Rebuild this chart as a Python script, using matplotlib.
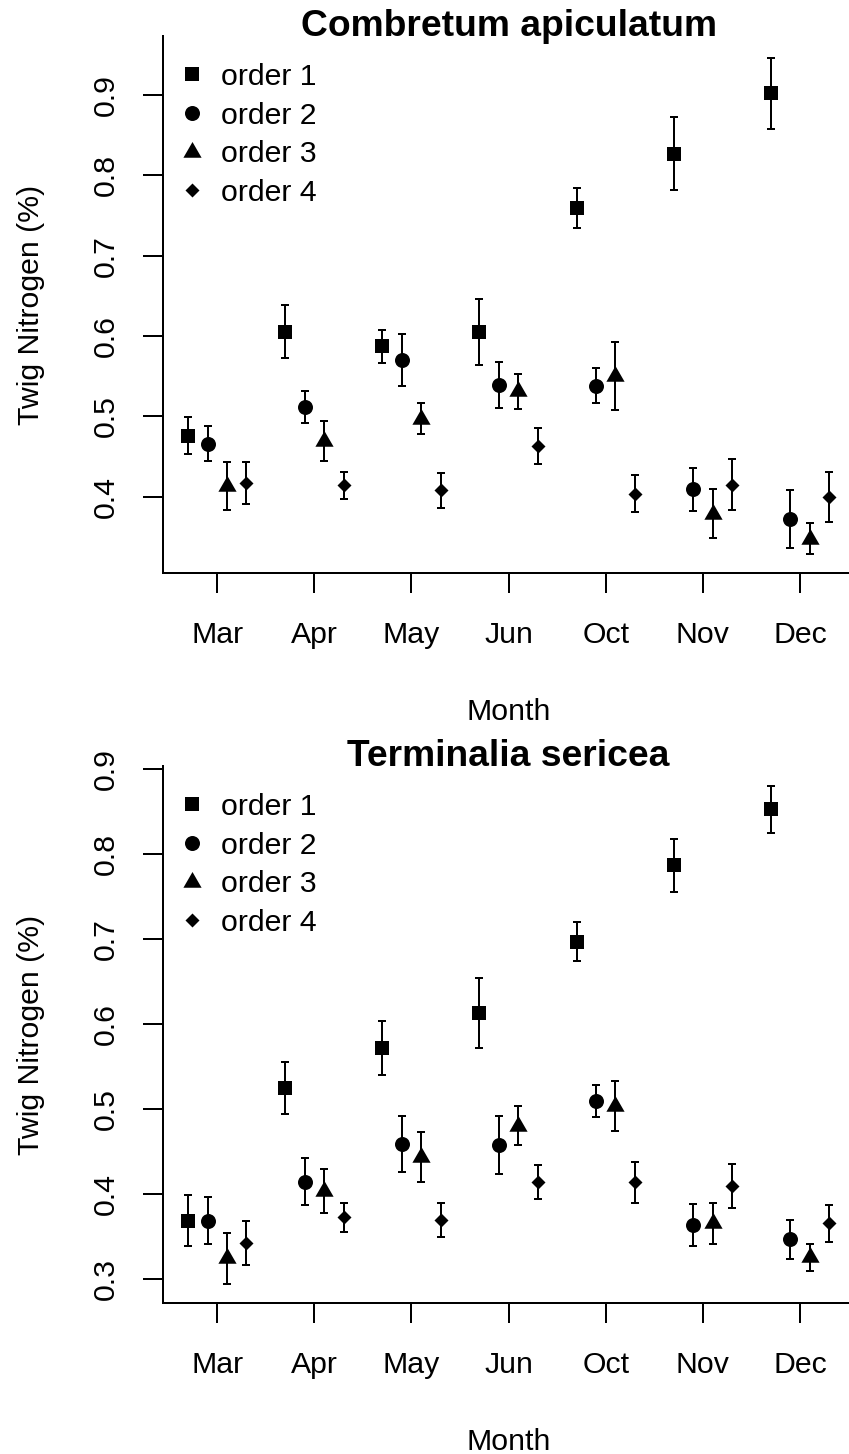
import numpy as np
import matplotlib
matplotlib.use("Agg")
import matplotlib.pyplot as plt
from matplotlib.path import Path

plt.rcParams['font.family'] = ['Liberation Sans', 'DejaVu Sans']

# ---------------- data ----------------
months = ["Mar", "Apr", "May", "Jun", "Oct", "Nov", "Dec"]
order_labels = ["order 1", "order 2", "order 3", "order 4"]

# Combretum apiculatum: means and error (half-length of bars)
ca_o1 = [0.476, 0.605, 0.587, 0.605, 0.759, 0.827, 0.902]
ca_o1_err = [0.023, 0.033, 0.021, 0.041, 0.025, 0.045, 0.044]
ca_o2 = [0.466, 0.512, 0.570, 0.539, 0.538, 0.409, 0.372]
ca_o2_err = [0.022, 0.020, 0.032, 0.029, 0.022, 0.027, 0.036]
ca_o3 = [0.413, 0.469, 0.497, 0.531, 0.550, 0.379, 0.348]
ca_o3_err = [0.030, 0.025, 0.019, 0.022, 0.042, 0.030, 0.019]
ca_o4 = [0.417, 0.414, 0.408, 0.463, 0.404, 0.415, 0.400]
ca_o4_err = [0.026, 0.017, 0.022, 0.022, 0.023, 0.032, 0.031]

# Terminalia sericea
ts_o1 = [0.369, 0.525, 0.572, 0.613, 0.697, 0.787, 0.853]
ts_o1_err = [0.030, 0.031, 0.032, 0.041, 0.023, 0.031, 0.028]
ts_o2 = [0.369, 0.415, 0.459, 0.458, 0.510, 0.364, 0.347]
ts_o2_err = [0.028, 0.028, 0.033, 0.034, 0.019, 0.025, 0.023]
ts_o3 = [0.325, 0.404, 0.444, 0.481, 0.504, 0.366, 0.326]
ts_o3_err = [0.030, 0.026, 0.029, 0.023, 0.029, 0.024, 0.016]
ts_o4 = [0.343, 0.373, 0.370, 0.414, 0.414, 0.410, 0.366]
ts_o4_err = [0.026, 0.017, 0.020, 0.020, 0.024, 0.026, 0.022]

panels = [
    ("Combretum apiculatum",
     [ca_o1, ca_o2, ca_o3, ca_o4], [ca_o1_err, ca_o2_err, ca_o3_err, ca_o4_err],
     [0.4, 0.5, 0.6, 0.7, 0.8, 0.9], (0.3047, 0.9733)),
    ("Terminalia sericea",
     [ts_o1, ts_o2, ts_o3, ts_o4], [ts_o1_err, ts_o2_err, ts_o3_err, ts_o4_err],
     [0.3, 0.4, 0.5, 0.6, 0.7, 0.8, 0.9], (0.2718, 0.904)),
]

# ---------------- styling ----------------
W, H = 849, 1454
DPI = 100
PT = 72.0 / DPI  # points per pixel

tri = Path([(0, 1), (0.866, -0.5), (-0.866, -0.5), (0, 1)],
           [Path.MOVETO, Path.LINETO, Path.LINETO, Path.CLOSEPOLY])
dia = Path([(0, 1), (1, 0), (0, -1), (-1, 0), (0, 1)],
           [Path.MOVETO, Path.LINETO, Path.LINETO, Path.LINETO, Path.CLOSEPOLY])
markers = ['s', 'o', tri, dia]
msizes = [14.5 * PT, 15 * PT, 21 * PT, 14 * PT]
dodge = [-0.3, -0.1, 0.1, 0.3]

FS = 21.8
TFS = 26.8
LW = 2.0 * PT

fig = plt.figure(figsize=(W / DPI, H / DPI), dpi=DPI)

ax_left = 162.5
ax_right = 854.7
ax_h = 537.3
tops = [36.0, 766.0]

x = np.arange(1, len(months) + 1)

for (title, means, errs, yticks, ylim), top in zip(panels, tops):
    bottom_px = top + ax_h
    ax = fig.add_axes([ax_left / W, 1 - bottom_px / H,
                       (ax_right - ax_left) / W, ax_h / H])
    handles = []
    for k in range(4):
        xs = x + dodge[k]
        ax.errorbar(xs, means[k], yerr=errs[k], fmt='none', ecolor='black',
                    elinewidth=LW, capsize=2.9, capthick=LW, zorder=2)
        h, = ax.plot(xs, means[k], linestyle='none', marker=markers[k],
                     markersize=msizes[k], markerfacecolor='black',
                     markeredgewidth=0, color='black', label=order_labels[k],
                     zorder=3)
        handles.append(h)

    ax.set_xlim(0.436, 7.564)
    ax.set_ylim(*ylim)
    ax.set_xticks(x)
    ax.set_xticklabels(months)
    ax.set_yticks(yticks)
    ax.set_yticklabels([f"{v:.1f}" for v in yticks])
    for s in ['top', 'right']:
        ax.spines[s].set_visible(False)
    for s in ['left', 'bottom']:
        ax.spines[s].set_linewidth(LW)
    ax.tick_params(axis='both', direction='out', length=20 * PT, width=LW,
                   labelsize=FS, color='black')
    ax.tick_params(axis='x', pad=19.9)
    ax.tick_params(axis='y', pad=16.5, labelrotation=90)
    for lab in ax.get_yticklabels():
        lab.set_va('center')

    ax.set_xlabel("Month", fontsize=FS)
    ax.xaxis.set_label_coords(0.5, -0.2312)
    ax.set_ylabel("Twig Nitrogen (%)", fontsize=FS)
    ax.yaxis.set_label_coords((45.4 - ax_left) / (ax_right - ax_left), 0.5)

    ax.text(0.5, 1.0, title, transform=ax.transAxes, ha='center',
            va='baseline', fontsize=TFS, fontweight='bold')

    ax.legend(handles=handles, loc='upper left',
              bbox_to_anchor=((176.5 - ax_left) / (ax_right - ax_left),
                              1 - (63.0 - 36.0) / ax_h),
              frameon=False, borderpad=0, borderaxespad=0,
              handlelength=1.0, handletextpad=0.46, labelspacing=0.35,
              fontsize=FS, numpoints=1)

fig.savefig("out.png", dpi=DPI)
